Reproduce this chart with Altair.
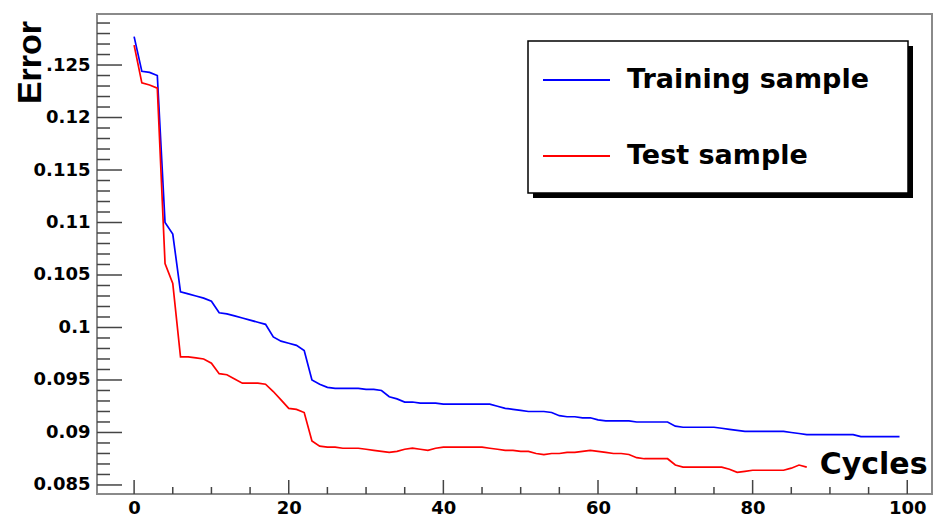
import altair as alt
import pandas as pd

# ---------------- data ----------------
series_names = ["Training sample", "Test sample"]
series_colors = ["#0000ff", "#ff0000"]

train_cycles = list(range(100))
train_error = [
    0.1277, 0.1244, 0.1243, 0.1240, 0.1100, 0.1089, 0.1034, 0.1032, 0.1030, 0.1028,
    0.1025, 0.1014, 0.1013, 0.1011, 0.1009, 0.1007, 0.1005, 0.1003, 0.0991, 0.0987,
    0.0985, 0.0983, 0.0978, 0.0950, 0.0946, 0.0943, 0.0942, 0.0942, 0.0942, 0.0942,
    0.0941, 0.0941, 0.0940, 0.0934, 0.0932, 0.0929, 0.0929, 0.0928, 0.0928, 0.0928,
    0.0927, 0.0927, 0.0927, 0.0927, 0.0927, 0.0927, 0.0927, 0.0925, 0.0923, 0.0922,
    0.0921, 0.0920, 0.0920, 0.0920, 0.0919, 0.0916, 0.0915, 0.0915, 0.0914, 0.0914,
    0.0912, 0.0911, 0.0911, 0.0911, 0.0911, 0.0910, 0.0910, 0.0910, 0.0910, 0.0910,
    0.0906, 0.0905, 0.0905, 0.0905, 0.0905, 0.0905, 0.0904, 0.0903, 0.0902, 0.0901,
    0.0901, 0.0901, 0.0901, 0.0901, 0.0901, 0.0900, 0.0899, 0.0898, 0.0898, 0.0898,
    0.0898, 0.0898, 0.0898, 0.0898, 0.0896, 0.0896, 0.0896, 0.0896, 0.0896, 0.0896,
]

test_cycles = list(range(88))
test_error = [
    0.1269, 0.1233, 0.1231, 0.1228, 0.1061, 0.1042, 0.0972, 0.0972, 0.0971, 0.0970,
    0.0966, 0.0956, 0.0955, 0.0951, 0.0947, 0.0947, 0.0947, 0.0946, 0.0939, 0.0931,
    0.0923, 0.0922, 0.0919, 0.0892, 0.0887, 0.0886, 0.0886, 0.0885, 0.0885, 0.0885,
    0.0884, 0.0883, 0.0882, 0.0881, 0.0882, 0.0884, 0.0885, 0.0884, 0.0883, 0.0885,
    0.0886, 0.0886, 0.0886, 0.0886, 0.0886, 0.0886, 0.0885, 0.0884, 0.0883, 0.0883,
    0.0882, 0.0882, 0.0880, 0.0879, 0.0880, 0.0880, 0.0881, 0.0881, 0.0882, 0.0883,
    0.0882, 0.0881, 0.0880, 0.0880, 0.0879, 0.0876, 0.0875, 0.0875, 0.0875, 0.0875,
    0.0869, 0.0867, 0.0867, 0.0867, 0.0867, 0.0867, 0.0867, 0.0865, 0.0862, 0.0863,
    0.0864, 0.0864, 0.0864, 0.0864, 0.0864, 0.0866, 0.0869, 0.0867,
]

x_major_ticks = [0, 20, 40, 60, 80, 100]
x_minor_ticks = [5, 10, 15, 25, 30, 35, 45, 50, 55, 65, 70, 75, 85, 90, 95]
y_major_ticks = [0.085, 0.09, 0.095, 0.1, 0.105, 0.11, 0.115, 0.12, 0.125]
y_minor_ticks = [
    0.086, 0.087, 0.088, 0.089, 0.091, 0.092, 0.093, 0.094, 0.096, 0.097,
    0.098, 0.099, 0.101, 0.102, 0.103, 0.104, 0.106, 0.107, 0.108, 0.109,
    0.111, 0.112, 0.113, 0.114, 0.116, 0.117, 0.118, 0.119, 0.121, 0.122,
    0.123, 0.124, 0.126, 0.127, 0.128, 0.129,
]

x_domain = [-4.8, 103.2]
y_domain = [0.08414, 0.12986]

# ---------------- tables ----------------
lines_df = pd.concat([
    pd.DataFrame({"cycle": train_cycles, "error": train_error, "sample": series_names[0]}),
    pd.DataFrame({"cycle": test_cycles, "error": test_error, "sample": series_names[1]}),
], ignore_index=True)

xs = alt.Scale(domain=x_domain, nice=False, zero=False)
ys = alt.Scale(domain=y_domain, nice=False, zero=False)

W, H = 835, 480
TICK_COLOR = "#444444"
FONT = "DejaVu Sans"

x_axis = alt.Axis(
    values=x_major_ticks, format="d", ticks=False, domain=False, grid=False,
    labelFont=FONT, labelFontWeight="bold", labelFontSize=18, labelColor="black",
    labelPadding=5, labelFlush=False, labelOverlap=False,
    title="Cycles", titleFont=FONT, titleFontWeight="bold", titleFontSize=30,
    titleColor="black", titleAlign="right", titleBaseline="alphabetic",
    titleX=830, titleY=-21)
y_axis = alt.Axis(
    values=y_major_ticks, format="~g",
    labelExpr="datum.value > 0.1249 ? '.125' : datum.label",
    ticks=False, domain=False, grid=False,
    labelFont=FONT, labelFontWeight="bold", labelFontSize=18, labelColor="black",
    labelPadding=7, labelFlush=False, labelOverlap=False,
    title="Error", titleFont="Liberation Sans", titleFontWeight="bold",
    titleFontSize=34, titleColor="black", titleAngle=270,
    titleAlign="center", titleBaseline="middle", titleX=-67, titleY=48)

lines = alt.Chart(lines_df).mark_line(strokeWidth=1.7, clip=True).encode(
    x=alt.X("cycle:Q", scale=xs, axis=x_axis, title="Cycles"),
    y=alt.Y("error:Q", scale=ys, axis=y_axis, title="Error"),
    color=alt.Color("sample:N", sort=series_names,
                    scale=alt.Scale(domain=series_names, range=series_colors),
                    legend=alt.Legend(
                        orient="none", legendX=445, legendY=31.5, title=None,
                        symbolType="stroke", symbolSize=4489, symbolStrokeWidth=2,
                        labelFont=FONT, labelFontWeight="bold", labelFontSize=27,
                        labelColor="black", labelOffset=16, labelLimit=500,
                        rowPadding=28, padding=0)),
    order="cycle:Q",
)

y_major = alt.Chart(pd.DataFrame({"v": y_major_ticks})).mark_rule(
    color=TICK_COLOR, strokeWidth=1.5).encode(
    y=alt.Y("v:Q", scale=ys, title="Error"), x=alt.value(0), x2=alt.value(25))
y_minor = alt.Chart(pd.DataFrame({"v": y_minor_ticks})).mark_rule(
    color=TICK_COLOR, strokeWidth=1.5).encode(
    y=alt.Y("v:Q", scale=ys, title="Error"), x=alt.value(0), x2=alt.value(13))
x_major = alt.Chart(pd.DataFrame({"v": x_major_ticks})).mark_rule(
    color=TICK_COLOR, strokeWidth=1.5).encode(
    x=alt.X("v:Q", scale=xs, title="Cycles"), y=alt.value(H), y2=alt.value(H - 14))
x_minor = alt.Chart(pd.DataFrame({"v": x_minor_ticks})).mark_rule(
    color=TICK_COLOR, strokeWidth=1.5).encode(
    x=alt.X("v:Q", scale=xs, title="Cycles"), y=alt.value(H), y2=alt.value(H - 7))

box_df = pd.DataFrame({"k": [0]})
shadow = alt.Chart(box_df).mark_rect(color="black").encode(
    x=alt.value(436), x2=alt.value(816), y=alt.value(32), y2=alt.value(184))
box = alt.Chart(box_df).mark_rect(fill="white", stroke="black", strokeWidth=1.5).encode(
    x=alt.value(431), x2=alt.value(811), y=alt.value(27), y2=alt.value(179))

chart = alt.layer(
    lines, y_minor, y_major, x_minor, x_major, shadow, box
).properties(
    width=W, height=H,
    autosize=alt.AutoSizeParams(type="none"),
    padding={"left": 97, "top": 14, "right": 4, "bottom": 24},
    background="white",
).configure_view(stroke="#8a8a8a", strokeWidth=2)

chart.save("out.html", embed_options={"renderer": "svg", "actions": False})
